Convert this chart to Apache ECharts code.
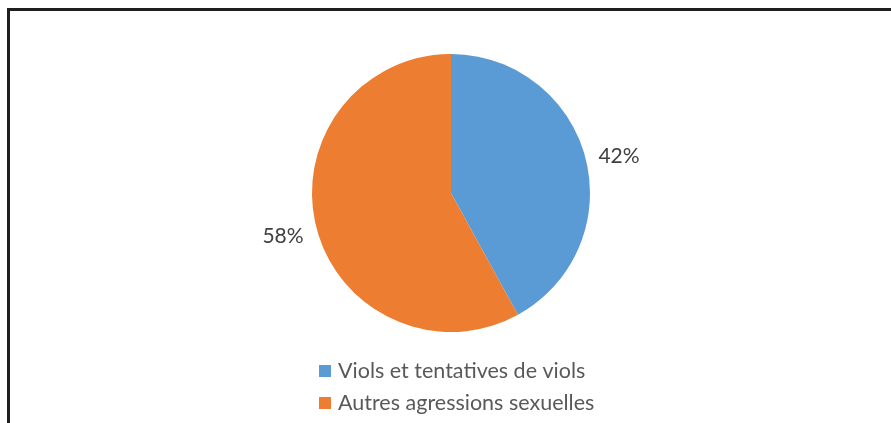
<!DOCTYPE html>
<html>
<head>
<meta charset="utf-8">
<script src="https://cdn.jsdelivr.net/npm/echarts@6/dist/echarts.min.js"></script>
<style>
  html, body { margin: 0; padding: 0; background: #fff; }
  #main { width: 891px; height: 423px; }
</style>
</head>
<body>
<div id="main"></div>
<script>
// chart data
const categories = ["Viols et tentatives de viols", "Autres agressions sexuelles"];
const values = [42, 58];
const colors = ["#5B9BD5", "#ED7D31"];

const fontName = "Lato, 'Open Sans', sans-serif";

let myChart = echarts.init(document.getElementById("main"));
let option = {
  animation: false,
  color: colors,
  graphic: [
    {
      type: "line",
      shape: { x1: 7, y1: 9.5, x2: 891, y2: 9.5 },
      style: { stroke: "#1f1f1f", lineWidth: 3 }
    },
    {
      type: "line",
      shape: { x1: 8.5, y1: 8, x2: 8.5, y2: 423 },
      style: { stroke: "#1f1f1f", lineWidth: 3 }
    }
  ],
  legend: {
    orient: "vertical",
    left: 314,
    top: 355,
    itemWidth: 12,
    itemHeight: 12,
    itemGap: 10,
    icon: "rect",
    textStyle: {
      fontFamily: fontName,
      fontSize: 21.5,
      color: "#595959",
      padding: [0, 0, 0, 2]
    },
    data: categories
  },
  series: [
    {
      type: "pie",
      center: [451, 193],
      radius: 139,
      startAngle: 90,
      clockwise: true,
      avoidLabelOverlap: false,
      label: {
        show: true,
        position: "outside",
        formatter: "{d}%",
        fontFamily: fontName,
        fontSize: 21,
        color: "#404040"
      },
      labelLine: {
        show: false,
        length: 8,
        length2: 0
      },
      emphasis: { disabled: true },
      data: categories.map((name, i) => {
        let item = { name: name, value: values[i] };
        if (i === 1) {
          item.label = {
            formatter: "{s|{d}%}",
            rich: {
              s: { fontFamily: fontName, fontSize: 21, color: "#404040", padding: [14, 0, 0, 0] }
            }
          };
        }
        return item;
      })
    }
  ]
};
myChart.setOption(option);
</script>
</body>
</html>
